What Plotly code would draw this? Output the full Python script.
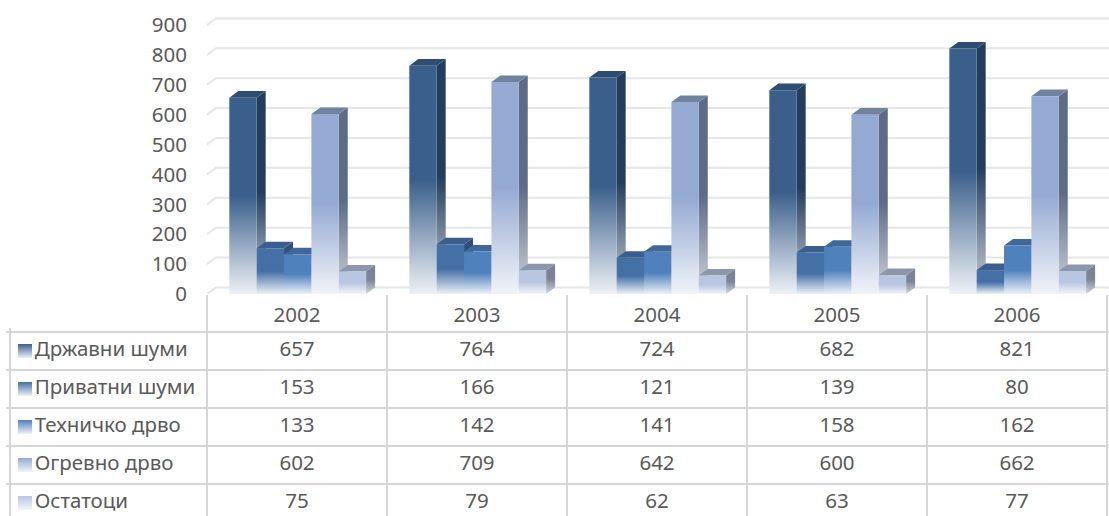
import plotly.graph_objects as go

# ---------------- data ----------------
years = ["2002", "2003", "2004", "2005", "2006"]
series_names = ["Државни шуми", "Приватни шуми", "Техничко дрво", "Огревно дрво", "Остатоци"]
drzavni_sumi = [657, 764, 724, 682, 821]
privatni_sumi = [153, 166, 121, 139, 80]
tehnicko_drvo = [133, 142, 141, 158, 162]
ogrevno_drvo = [602, 709, 642, 600, 662]
ostatoci = [75, 79, 62, 63, 77]
y_ticks = [0, 100, 200, 300, 400, 500, 600, 700, 800, 900]

series_values = [drzavni_sumi, privatni_sumi, tehnicko_drvo, ogrevno_drvo, ostatoci]

# ---------------- style ----------------
W, H = 1109, 516
FONT = "Noto Sans"
FS = 20.5
TXT = "#595959"
GRID = "#e6e6e6"
TBL = "#d6d6d6"

front_colors = ["#3a5f8b", "#4470a6", "#4f81bd", "#95aad3", "#b9c6e2"]
side_colors = ["#253d5c", "#2f4f78", "#3b6396", "#5d6b86", "#7b8496"]
top_colors = ["#2f4c72", "#3a5f8e", "#3f6798", "#71829f", "#8c97ab"]
front_bottom = ["#eef1f6", "#edf1f7", "#eef2f8", "#f1f3f8", "#f3f5fa"]
side_bottom = ["#c9d0da", "#c9d1dc", "#cbd3de", "#cfd4dc", "#d3d6dc"]

bar_w = 0.152          # width of one bar in category units
group_left = -0.376    # left edge of the group relative to category centre
dx = 0.05              # 3-D depth, horizontal (category units)
dy = 22.0              # 3-D depth, vertical (value units)

CAT_PX = 180.0                      # pixels per category
plot_left_px, plot_bottom_px = 207, 294
px_per_unit = 269 / 900.0
y_max = 930
x_lo = -0.5
x_hi = -0.5 + (W - plot_left_px) / CAT_PX

# table geometry
table_left_px, table_right_px, table_top_px = 10, 1107, 332
ROW_PX = 38.0
EDGE = 4                                  # pixels of slack so edge grid lines are drawn
label_col = (plot_left_px - table_left_px) / CAT_PX
tdom_left_px = table_left_px - EDGE
tdom_right_px = min(W, table_right_px + EDGE)
tdom_top_px = table_top_px - EDGE
tx_lo = x_lo - label_col - EDGE / CAT_PX
tx_hi = x_lo + len(years) + (tdom_right_px - table_right_px) / CAT_PX
ty_top = -0.5 - EDGE / ROW_PX
ty_bot = -0.5 + (H - table_top_px) / ROW_PX

fig = go.Figure()

# back-wall grid lines (with the small side-wall hook at the left)
gx, gy = [], []
for t in y_ticks:
    gx += [x_lo, x_lo + dx, x_hi, None]
    gy += [t, t + dy, t + dy, None]
fig.add_trace(go.Scatter(x=gx, y=gy, mode="lines", line=dict(color=GRID, width=2),
                         hoverinfo="skip", showlegend=False))

# 3-D bars
for i, yr in enumerate(years):
    for k, (name, vals) in enumerate(zip(series_names, series_values)):
        v = vals[i]
        xl = i + group_left + k * bar_w
        xr = xl + bar_w
        # side face
        fig.add_trace(go.Scatter(
            x=[xr, xr + dx, xr + dx, xr, xr], y=[0, dy, v + dy, v, 0],
            mode="lines", line=dict(width=0), fill="toself",
            fillgradient=dict(type="vertical", start=0, stop=v + dy,
                              colorscale=[[0, side_bottom[k]], [0.5, side_colors[k]], [1, side_colors[k]]]),
            hoverinfo="skip", showlegend=False))
        # top face
        fig.add_trace(go.Scatter(
            x=[xl, xr, xr + dx, xl + dx, xl], y=[v, v, v + dy, v + dy, v],
            mode="lines", line=dict(width=0), fill="toself", fillcolor=top_colors[k],
            hoverinfo="skip", showlegend=False))
        # front face
        fig.add_trace(go.Scatter(
            x=[xl, xr, xr, xl, xl], y=[0, 0, v, v, 0],
            mode="lines", line=dict(width=0), fill="toself",
            fillgradient=dict(type="vertical", start=0, stop=v,
                              colorscale=[[0, front_bottom[k]], [0.5, front_colors[k]], [1, front_colors[k]]]),
            name=name, hoveron="fills", text=f"{name} {yr}: {v}", hoverinfo="text",
            showlegend=False))

# ---------------- data table (acts as the legend) ----------------
cx, cy, ct = [], [], []
for k, vals in enumerate(series_values):
    for i, v in enumerate(vals):
        cx.append(i)
        cy.append(k)
        ct.append(str(v))
fig.add_trace(go.Scatter(x=cx, y=cy, text=ct, mode="text", textposition="middle center",
                         textfont=dict(family=FONT, size=FS, color=TXT),
                         xaxis="x2", yaxis="y2", hoverinfo="skip", showlegend=False,
                         cliponaxis=False))
key_x = x_lo - (plot_left_px - 25) / CAT_PX
fig.add_trace(go.Scatter(
    x=[key_x] * len(series_names), y=list(range(len(series_names))), text=series_names,
    mode="markers+text", textposition="middle right",
    marker=dict(symbol="square", size=14, color=front_colors, line=dict(width=0),
                gradient=dict(type="vertical", color=front_bottom)),
    textfont=dict(family=FONT, size=FS, color=TXT),
    xaxis="x2", yaxis="y2", hoverinfo="skip", showlegend=False, cliponaxis=False))

y_dom_bottom = (H - plot_bottom_px) / H
y_dom_top = (H - (plot_bottom_px - y_max * px_per_unit)) / H

fig.update_layout(
    width=W, height=H, autosize=False,
    margin=dict(l=0, r=0, t=0, b=0, pad=0, autoexpand=False),
    paper_bgcolor="white", plot_bgcolor="rgba(0,0,0,0)",
    showlegend=False,
    font=dict(family=FONT, size=FS, color=TXT),
    xaxis=dict(domain=[plot_left_px / W, 1], range=[x_lo, x_hi], showgrid=False,
               zeroline=False, showline=False, fixedrange=True, automargin=False,
               tickmode="array", tickvals=list(range(len(years))), ticktext=years,
               ticks="", ticklabelstandoff=6,
               tickfont=dict(family=FONT, size=FS, color=TXT),
               minor=dict(tickmode="array", tickvals=[x_lo + j for j in range(len(years) + 1)],
                          ticks="outside", ticklen=table_top_px - plot_bottom_px,
                          tickcolor=TBL, tickwidth=1.5, showgrid=False)),
    yaxis=dict(domain=[y_dom_bottom, y_dom_top], range=[0, y_max], tickvals=y_ticks,
               showgrid=False, zeroline=False, showline=False, ticks="", automargin=False,
               ticklabelstandoff=19, tickfont=dict(family=FONT, size=FS, color=TXT),
               fixedrange=True),
    xaxis2=dict(domain=[tdom_left_px / W, tdom_right_px / W], range=[tx_lo, tx_hi],
                anchor="y2", tickmode="array", automargin=False,
                tickvals=[x_lo - label_col] + [x_lo + j for j in range(len(years) + 1)],
                showgrid=True, gridcolor=TBL, gridwidth=1.5, showticklabels=False, ticks="",
                zeroline=False, showline=False, fixedrange=True),
    yaxis2=dict(domain=[0, (H - tdom_top_px) / H], range=[ty_bot, ty_top],
                anchor="x2", tickmode="array", automargin=False,
                tickvals=[r - 0.5 for r in range(len(series_names) + 1)],
                showgrid=True, gridcolor=TBL, gridwidth=1.5, showticklabels=False, ticks="",
                zeroline=False, showline=False, fixedrange=True),
)

fig.write_html("out.html", config={"responsive": False, "displayModeBar": False})
